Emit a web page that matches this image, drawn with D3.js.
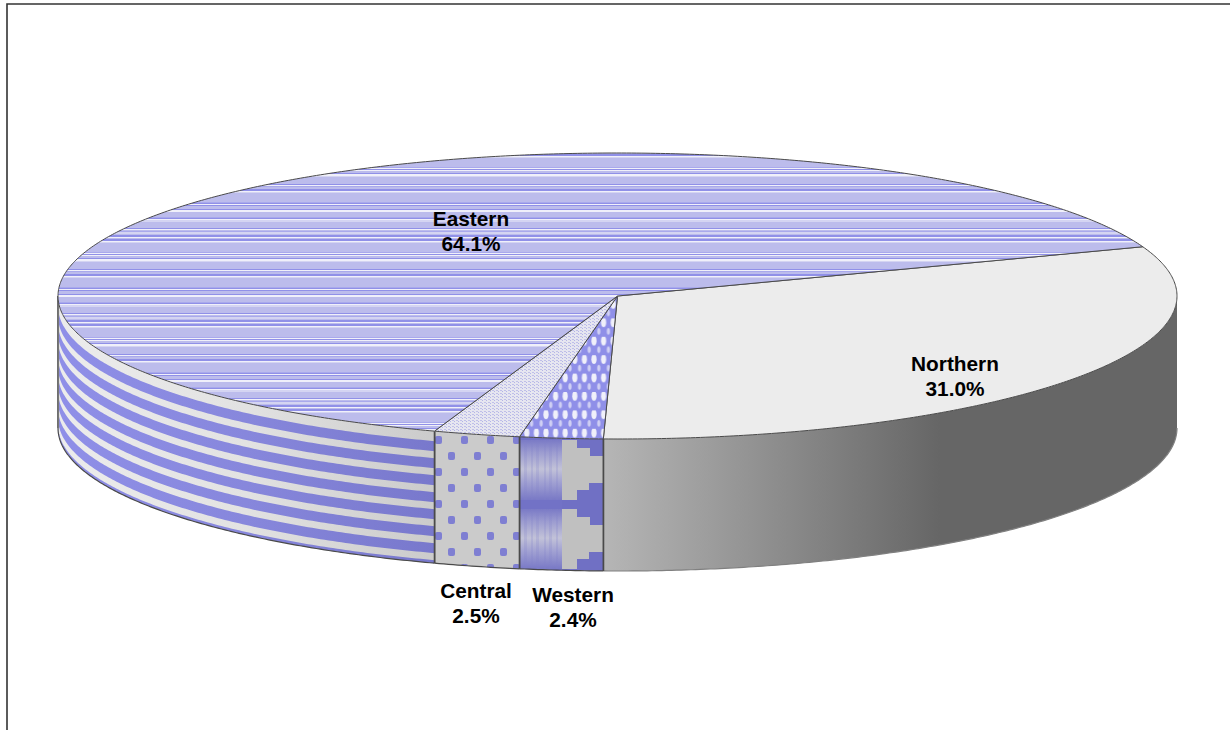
<!DOCTYPE html>
<html><head><meta charset="utf-8">
<script src="https://cdnjs.cloudflare.com/ajax/libs/d3/7.8.5/d3.min.js"></script>
<style>html,body{margin:0;padding:0;background:#fff;overflow:hidden}svg{display:block}</style>
</head><body><svg id="c" width="1230" height="730"></svg>
<script>
const regions = ["Northern","Western","Central","Eastern"];
const shares = [31.0,2.4,2.5,64.1];
const shareLabels = ["31.0%","2.4%","2.5%","64.1%"];

const svg = d3.select("#c");
const defs = svg.append("defs");
const rad = d3.scaleLinear().domain([0,360]).range([0,2*Math.PI]);
const px = d3.scaleLinear().domain([-1,1]).range([58,1177]);
const py = d3.scaleLinear().domain([-1,1]).range([153,439]);
const DEPTH = 132;
const pie = d3.pie().sort(null).value(d=>d).startAngle(rad(69.85)).endAngle(rad(429.85));
const arcs = pie(shares);
const pt = (a,d=0)=>[px(Math.sin(a)),py(-Math.cos(a))+d];
const line = d3.line();
const sample = (a0,a1)=>{const n=Math.max(2,Math.ceil((a1-a0)/rad(0.5)));return d3.range(n+1).map(i=>a0+(a1-a0)*i/n);};
const topPath = (a0,a1)=>line([[px(0),py(0)],...sample(a0,a1).map(a=>pt(a))])+"Z";
const bandPath = (a0,a1,d0,d1)=>line([...sample(a0,a1).map(a=>pt(a,d0)),...sample(a0,a1).reverse().map(a=>pt(a,d1))])+"Z";

/* Eastern top: irregular dithered rows */
const rowColor={L:"#bcbcec",B:"#9090e8",W:"#f0f0fa",M:"#a9a9ec",P:"#d4d4f2"};
const rowCode="LBBWPLLLLLLLLLMWBWLLBWWPLLLLLLLBWMLLBBWPLLLLLLLLLMBWBLLLBWWLLLLLMBWPPLLLLLLBWLMPPLBBW";
const pEast=defs.append("pattern").attr("id","pEast").attr("patternUnits","userSpaceOnUse")
  .attr("width",4).attr("height",rowCode.length).attr("y",153);
pEast.selectAll("rect").data(rowCode.split("")).join("rect")
  .attr("x",0).attr("width",4).attr("height",1).attr("y",(d,i)=>i)
  .attr("fill",d=>rowColor[d]).attr("shape-rendering","crispEdges");

/* Central top: fine dots */
const pCen=defs.append("pattern").attr("id","pCen").attr("patternUnits","userSpaceOnUse").attr("width",4).attr("height",3);
pCen.append("rect").attr("width",4).attr("height",3).attr("fill","#e6e6f0");
pCen.append("rect").attr("x",0).attr("y",0).attr("width",2).attr("height",1).attr("fill","#c0c0e8");
pCen.append("rect").attr("x",2).attr("y",1).attr("width",1).attr("height",1).attr("fill","#b4b4e8");

/* Western top: diamonds */
const pWes=defs.append("pattern").attr("id","pWes").attr("patternUnits","userSpaceOnUse")
  .attr("width",9.6).attr("height",18.4).attr("x",522).attr("y",300);
pWes.append("rect").attr("width",9.6).attr("height",18.4).attr("fill","#8f8fe8");
pWes.append("ellipse").attr("cx",4.8).attr("cy",4).attr("rx",2.6).attr("ry",4.6).attr("fill","#f0f0fa");
pWes.append("ellipse").attr("cx",0).attr("cy",13).attr("rx",1.6).attr("ry",3.2).attr("fill","#d0d0f4");
pWes.append("ellipse").attr("cx",9.6).attr("cy",13).attr("rx",1.6).attr("ry",3.2).attr("fill","#d0d0f4");

/* Central side: staggered dots */
const pCenS=defs.append("pattern").attr("id","pCenS").attr("patternUnits","userSpaceOnUse")
  .attr("width",26).attr("height",32).attr("x",435).attr("y",452);
pCenS.append("rect").attr("width",26).attr("height",32).attr("fill","#cbcbcb");
pCenS.append("rect").attr("x",13).attr("y",0).attr("width",7).attr("height",8).attr("rx",2).attr("fill","#7f7fd2");
pCenS.append("rect").attr("x",0).attr("y",16).attr("width",7).attr("height",8).attr("rx",2).attr("fill","#7f7fd2");

/* Western side: blurred left half, stepped right half */
const gW=defs.append("linearGradient").attr("id","gW").attr("x1",0).attr("x2",0).attr("y1",0).attr("y2",1);
[[0,"#7a7ac6"],[0.18,"#9c9cd0"],[0.42,"#c2c2d8"],[0.62,"#a0a0d2"],[0.86,"#7a7ac6"],[1,"#7070c4"]]
  .forEach(s=>gW.append("stop").attr("offset",s[0]).attr("stop-color",s[1]));
const pWesS=defs.append("pattern").attr("id","pWesS").attr("patternUnits","userSpaceOnUse")
  .attr("width",84).attr("height",69).attr("x",520).attr("y",440);
pWesS.append("rect").attr("width",84).attr("height",69).attr("fill","#c0c0c0");
pWesS.append("rect").attr("width",42).attr("height",69).attr("fill","url(#gW)");
[[4,3],[11,2],[16,3],[24,2],[29,3],[36,2]].forEach(c=>pWesS.append("rect").attr("x",c[0]).attr("y",0).attr("width",c[1]).attr("height",60).attr("fill","#8080c8").attr("opacity",0.22));
[[0,8,57],[8,8,70],[43,7,69],[50,10,57],[60,9,42]].forEach(r=>pWesS.append("rect")
  .attr("x",r[2]).attr("y",r[0]).attr("width",84-r[2]).attr("height",r[1]).attr("fill","#7070c4"));
pWesS.append("rect").attr("x",0).attr("y",60).attr("width",42).attr("height",9).attr("fill","#7272c6");

/* Side gradients */
const grad=(id,x1,x2,stops)=>{const g=defs.append("linearGradient").attr("id",id).attr("gradientUnits","userSpaceOnUse")
  .attr("x1",x1).attr("x2",x2).attr("y1",0).attr("y2",0);
  stops.forEach(s=>g.append("stop").attr("offset",s[0]).attr("stop-color",s[1]));};
grad("gNorth",603,940,[[0,"#b6b6b6"],[1,"#666666"]]);
grad("gEastBg",58,435,[[0,"#ececec"],[0.5,"#e2e2e2"],[1,"#cbcbcb"]]);
grad("gEastFg",58,435,[[0,"#8f8fe8"],[0.5,"#8787dc"],[1,"#7878cc"]]);

/* Frame */
svg.append("path").attr("d","M7,730V4H1230").attr("fill","none").attr("stroke","#333").attr("stroke-width",1.6);

const edge="#4a4a4a";
const L=Math.PI/2, R=3*Math.PI/2;
const sideStyle={Northern:"url(#gNorth)",Western:"url(#pWesS)",Central:"url(#pCenS)",Eastern:"url(#gEastBg)"};
const topStyle={Northern:"#ececec",Western:"url(#pWes)",Central:"url(#pCen)",Eastern:"url(#pEast)"};

/* Walls */
const sides=svg.append("g");
arcs.forEach((d,i)=>{
  const a0=Math.max(d.startAngle,L), a1=Math.min(d.endAngle,R);
  if(a1<=a0) return;
  sides.append("path").attr("d",bandPath(a0,a1,0,DEPTH)).attr("fill",sideStyle[regions[i]]);
  if(regions[i]==="Eastern"){
    const bandStarts=[10,27,44,61,78,95,112,129];
    sides.selectAll("path.band").data(bandStarts).join("path").attr("class","band")
      .attr("d",s=>bandPath(a0,a1,s,Math.min(s+10,DEPTH))).attr("fill","url(#gEastFg)");
  }
  sides.append("path").attr("d",line(sample(a0,a1).map(a=>pt(a,DEPTH))))
    .attr("fill","none").attr("stroke",regions[i]==="Northern"?"#808080":edge).attr("stroke-width",1.2);
  [a0,a1].forEach(a=>{ if(a>L+0.001){ const p=pt(a);
    sides.append("line").attr("x1",p[0]).attr("x2",p[0]).attr("y1",p[1]).attr("y2",p[1]+DEPTH)
      .attr("stroke",edge).attr("stroke-width",1.6);}});
});
const lp=pt(R);
sides.append("line").attr("x1",lp[0]+.5).attr("x2",lp[0]+.5).attr("y1",lp[1]).attr("y2",lp[1]+DEPTH).attr("stroke","#777").attr("stroke-width",1.2);

/* Top faces */
const tops=svg.append("g");
arcs.forEach((d,i)=>{
  tops.append("path").attr("d",topPath(d.startAngle,d.endAngle))
    .attr("fill",topStyle[regions[i]]).attr("stroke",edge).attr("stroke-width",1).attr("stroke-linejoin","round");
});

/* Labels */
const labelAt=[[955,371],[573,602],[476,598],[471,226]];
const LINE=24.8;
const lab=svg.append("g").attr("font-family","'Liberation Sans',Arial,sans-serif").attr("font-weight","bold")
  .attr("font-size",20.8).attr("text-anchor","middle").attr("fill","#000");
regions.forEach((r,i)=>{
  lab.append("text").attr("x",labelAt[i][0]).attr("y",labelAt[i][1]).text(r);
  lab.append("text").attr("x",labelAt[i][0]).attr("y",labelAt[i][1]+LINE).text(shareLabels[i]);
});
</script></body></html>
